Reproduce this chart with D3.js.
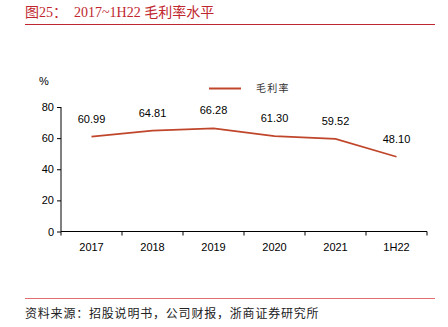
<!DOCTYPE html>
<html><head><meta charset="utf-8">
<script src="https://cdn.jsdelivr.net/npm/d3@7/dist/d3.min.js"></script>
<style>body{margin:0;background:#fff;}</style>
</head><body>
<script>
const categories = ["2017","2018","2019","2020","2021","1H22"];
const grossMargin = [60.99,64.81,66.28,61.30,59.52,48.10];
const yTicks = [0,20,40,60,80];
const titleText = "图25：  2017~1H22 毛利率水平";
const sourceText = "资料来源：招股说明书，公司财报，浙商证券研究所";
const seriesName = "毛利率";

const W=448,H=327;
const svg=d3.select("body").append("svg").attr("width",W).attr("height",H);
const red="#C0262D", lineColor="#C0462B";

svg.append("text").attr("x",25).attr("y",17).attr("fill",red)
  .attr("font-family","'Liberation Serif','Noto Sans CJK SC',serif").attr("font-size",14)
  .attr("xml:space","preserve").style("white-space","pre").text(titleText);
svg.append("line").attr("x1",25).attr("x2",435).attr("y1",24.5).attr("y2",24.5).attr("stroke",red).attr("stroke-width",1);
svg.append("line").attr("x1",25).attr("x2",435).attr("y1",298.5).attr("y2",298.5).attr("stroke","#E07070").attr("stroke-width",1);
svg.append("text").attr("x",25).attr("y",318).attr("fill","#222")
  .attr("font-family","'Noto Sans CJK SC',serif").attr("font-size",12).attr("letter-spacing",0.8).text(sourceText);

const x=d3.scaleBand().domain(categories).range([61,427]);
const y=d3.scaleLinear().domain([0,80]).range([231.5,107]);

const font="'Liberation Sans',Arial,sans-serif";
const gx=svg.append("g").attr("transform","translate(0,231.5)")
  .call(d3.axisBottom(x).tickSize(4).tickSizeOuter(4));
gx.selectAll(".tick line").attr("transform",`translate(${-x.bandwidth()/2},0)`);
gx.append("line").attr("x1",427).attr("x2",427).attr("y1",0).attr("y2",4).attr("stroke","#000");
gx.selectAll("text").attr("font-family",font).attr("font-size",11).attr("fill","#000").attr("dy","1.1em");
gx.select(".domain").attr("d","M61,0H427");

const gy=svg.append("g").attr("transform","translate(61,0)")
  .call(d3.axisLeft(y).tickValues(yTicks).tickSize(4).tickSizeOuter(0));
gy.selectAll("text").attr("font-family",font).attr("font-size",11).attr("fill","#000");
gy.select(".domain").attr("d","M0,107V231.5");

svg.append("text").attr("x",39).attr("y",85).attr("font-family",font).attr("font-size",11).text("%");

const line=d3.line().x((d,i)=>x(categories[i])+x.bandwidth()/2).y(d=>y(d));
svg.append("path").datum(grossMargin).attr("d",line).attr("fill","none").attr("stroke",lineColor).attr("stroke-width",1.6);

svg.selectAll(".lbl").data(grossMargin).enter().append("text")
  .attr("x",(d,i)=>x(categories[i])+x.bandwidth()/2).attr("y",d=>y(d)-14)
  .attr("text-anchor","middle").attr("font-family",font).attr("font-size",11).text(d=>d.toFixed(2));

svg.append("line").attr("x1",209).attr("x2",241).attr("y1",88.5).attr("y2",88.5).attr("stroke",lineColor).attr("stroke-width",2);
svg.append("text").attr("x",256).attr("y",92).attr("font-family","'Noto Sans CJK SC',serif").attr("font-size",10).attr("letter-spacing",1.3).attr("fill","#333").text(seriesName);
</script>
</body></html>
